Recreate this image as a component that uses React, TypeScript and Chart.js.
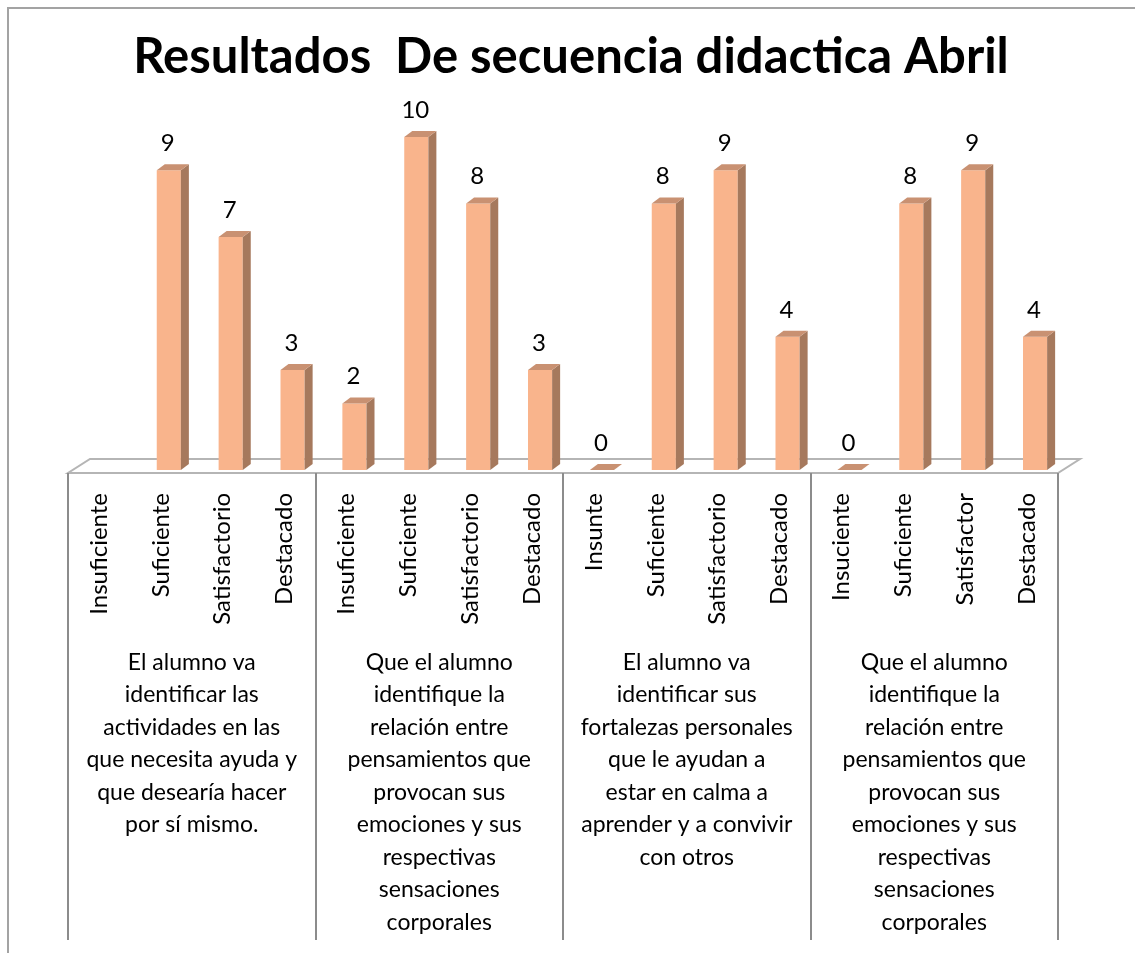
import React, { useEffect, useRef } from "react";
import { Chart, registerables } from "chart.js";

Chart.register(...registerables);

const chartTitle = "Resultados  De secuencia didactica Abril";

const categories = [
  "Insuficiente", "Suficiente", "Satisfactorio", "Destacado",
  "Insuficiente", "Suficiente", "Satisfactorio", "Destacado",
  "Insunte", "Suficiente", "Satisfactorio", "Destacado",
  "Insuciente", "Suficiente", "Satisfactor", "Destacado",
];

const values: (number | null)[] = [null, 9, 7, 3, 2, 10, 8, 3, 0, 8, 9, 4, 0, 8, 9, 4];

const groupLabels: string[][] = [
  ["El alumno va", "identificar las", "actividades en las", "que necesita ayuda y", "que desearía hacer", "por sí mismo."],
  ["Que el alumno", "identifique la", "relación entre", "pensamientos que", "provocan sus", "emociones y sus", "respectivas", "sensaciones", "corporales"],
  ["El alumno va", "identificar sus", "fortalezas personales", "que le ayudan a", "estar en calma a", "aprender y a convivir", "con otros"],
  ["Que el alumno", "identifique la", "relación entre", "pensamientos que", "provocan sus", "emociones y sus", "respectivas", "sensaciones", "corporales"],
];

const FONT = "Lato, 'Open Sans', sans-serif";
const FRONT = "#f9b48c";
const SIDE = "#a6795d";
const TOP = "#c99172";
const DX = 8;
const DY = 6;
const SHIFT = 8; // front row offset of floor/labels relative to bar fronts

const threeD = {
  id: "threeD",
  beforeDatasetsDraw(chart: any) {
    const { ctx, chartArea } = chart;
    const L = chartArea.left, R = chartArea.right, B = chartArea.bottom;
    ctx.save();
    // floor
    ctx.beginPath();
    ctx.moveTo(L - SHIFT, B + 3);
    ctx.lineTo(R - SHIFT, B + 3);
    ctx.lineTo(R + 14, B - 11);
    ctx.lineTo(L + 14, B - 11);
    ctx.closePath();
    ctx.fillStyle = "#ffffff";
    ctx.fill();
    ctx.strokeStyle = "#b5b5b5";
    ctx.lineWidth = 2;
    ctx.stroke();
    // group dividers
    const xs = chart.scales.x;
    const n = categories.length;
    const bounds: number[] = [L - SHIFT];
    for (let k = 4; k < n; k += 4) {
      bounds.push((xs.getPixelForValue(k - 1) + xs.getPixelForValue(k)) / 2 - SHIFT);
    }
    bounds.push(R - SHIFT);
    ctx.strokeStyle = "#8c8c8c";
    ctx.lineWidth = 2;
    bounds.forEach((bx) => {
      ctx.beginPath();
      ctx.moveTo(Math.round(bx), B + 3);
      ctx.lineTo(Math.round(bx), 940);
      ctx.stroke();
    });
    ctx.restore();
  },
  afterDatasetsDraw(chart: any) {
    const { ctx } = chart;
    const meta = chart.getDatasetMeta(0);
    ctx.save();
    meta.data.forEach((bar: any, i: number) => {
      const v = values[i];
      if (v === null || v === undefined) return;
      const { x, y, base, width } = bar.getProps(["x", "y", "base", "width"], true);
      const l = x - width / 2, r = x + width / 2;
      // side face
      if (base - y > 0.5) {
        ctx.beginPath();
        ctx.moveTo(r, y);
        ctx.lineTo(r + DX, y - DY);
        ctx.lineTo(r + DX, base - DY);
        ctx.lineTo(r, base);
        ctx.closePath();
        ctx.fillStyle = SIDE;
        ctx.fill();
      }
      // top face
      ctx.beginPath();
      ctx.moveTo(l, y);
      ctx.lineTo(l + DX, y - DY);
      ctx.lineTo(r + DX, y - DY);
      ctx.lineTo(r, y);
      ctx.closePath();
      ctx.fillStyle = TOP;
      ctx.fill();
      // value label
      ctx.fillStyle = "#000";
      ctx.font = `24px ${FONT}`;
      ctx.textAlign = "center";
      ctx.textBaseline = "middle";
      ctx.fillText(String(v), x - 1, y - 27);
    });
    ctx.restore();
  },
};

export default function App() {
  const ref = useRef<HTMLCanvasElement | null>(null);
  useEffect(() => {
    if (!ref.current) return;
    const chart = new Chart(ref.current, {
      type: "bar",
      data: {
        labels: categories,
        datasets: [
          {
            data: values as any,
            backgroundColor: FRONT,
            borderWidth: 0,
            categoryPercentage: 1,
            barPercentage: 0.39,
          },
        ],
      },
      options: {
        animation: false,
        responsive: false,
        devicePixelRatio: 1,
        layout: { padding: { left: 76, right: 69, top: 0, bottom: 0 } },
        plugins: {
          legend: { display: false },
          tooltip: { enabled: false },
          title: {
            display: true,
            text: chartTitle,
            color: "#000",
            font: { family: FONT, size: 49, weight: "bold", lineHeight: 1.2 },
            padding: { top: 27.6, bottom: 50.6 },
          },
        },
        scales: {
          y: { display: false, min: 0, max: 10 },
          x: {
            position: "bottom",
            grid: { display: false, drawTicks: false },
            border: { display: false },
            ticks: {
              autoSkip: false,
              minRotation: 90,
              maxRotation: 90,
              labelOffset: -SHIFT,
              padding: 23,
              color: "#000",
              font: { family: FONT, size: 24 },
            },
            afterFit: (s: any) => { s.height = 160; },
          },
          x2: {
            type: "category",
            labels: groupLabels as any,
            position: "bottom",
            offset: true,
            grid: { display: false, drawTicks: false },
            border: { display: false },
            ticks: {
              autoSkip: false,
              maxRotation: 0,
              minRotation: 0,
              labelOffset: -SHIFT,
              padding: 16,
              color: "#000",
              font: { family: FONT, size: 23, lineHeight: 1.413 },
            },
            afterFit: (s: any) => { s.height = 323; },
          },
        },
      },
      plugins: [threeD],
    });
    return () => chart.destroy();
  }, []);
  return (
    <div style={{ position: "fixed", left: 0, top: 0, width: 1135, height: 953, overflow: "hidden", background: "#fff" }}>
      <div style={{ position: "absolute", left: 7, top: 7, width: 2000, height: 2000, borderTop: "2px solid #a3a3a3", borderLeft: "2px solid #a3a3a3" }} />
      <canvas ref={ref} width={1135} height={953} style={{ position: "absolute", left: 0, top: 0 }} />
    </div>
  );
}
